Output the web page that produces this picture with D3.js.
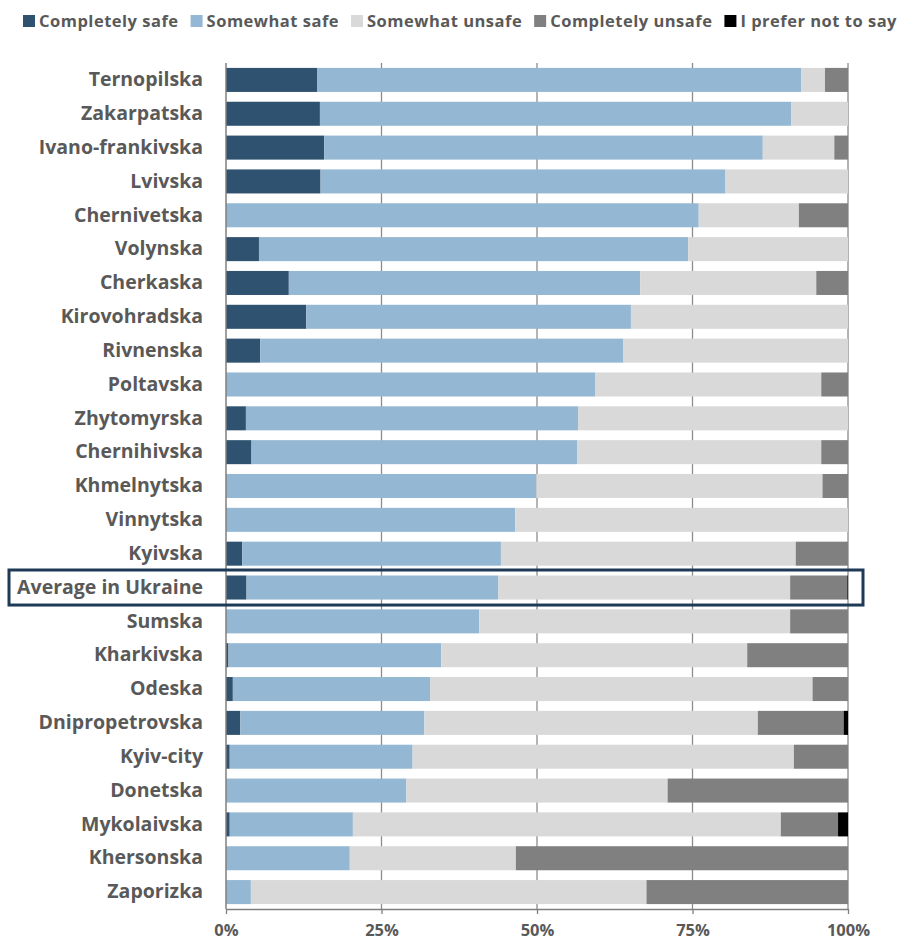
<!DOCTYPE html>
<html><head><meta charset="utf-8">
<script src="https://cdn.jsdelivr.net/npm/d3@7"></script>
<style>
html,body{margin:0;padding:0;background:#fff;}
svg text{font-family:"Open Sans",sans-serif;font-weight:700;fill:#595959;}
</style></head>
<body><svg id="chart" width="900" height="940"></svg>
<script>
const regions = ["Ternopilska","Zakarpatska","Ivano-frankivska","Lvivska","Chernivetska","Volynska","Cherkaska","Kirovohradska","Rivnenska","Poltavska","Zhytomyrska","Chernihivska","Khmelnytska","Vinnytska","Kyivska","Average in Ukraine","Sumska","Kharkivska","Odeska","Dnipropetrovska","Kyiv-city","Donetska","Mykolaivska","Khersonska","Zaporizka"];
const seriesNames = ["Completely safe","Somewhat safe","Somewhat unsafe","Completely unsafe","I prefer not to say"];
const completelySafe   = [14.7,15.1,15.8,15.2,0,5.3,10.1,12.9,5.5,0,3.2,4.1,0,0,2.6,3.3,0,0.4,1.1,2.3,0.6,0,0.6,0,0];
const somewhatSafe     = [77.8,75.8,70.5,65.1,76.0,69.0,56.5,52.2,58.4,59.4,53.4,52.4,49.9,46.5,41.6,40.5,40.7,34.2,31.7,29.6,29.4,29.0,19.8,19.9,4.0];
const somewhatUnsafe   = [3.8,9.1,11.5,19.7,16.1,25.7,28.3,34.9,36.1,36.3,43.4,39.2,46.0,53.5,47.4,46.9,50.0,49.2,61.5,53.6,61.3,42.0,68.8,26.7,63.6];
const completelyUnsafe = [3.7,0,2.2,0,7.9,0,5.1,0,0,4.3,0,4.3,4.1,0,8.4,9.2,9.3,16.2,5.7,13.8,8.7,29.0,9.2,53.4,32.4];
const preferNot        = [0,0,0,0,0,0,0,0,0,0,0,0,0,0,0,0.1,0,0,0,0.7,0,0,1.6,0,0];
const xTicks = [0,25,50,75,100];
const highlight = "Average in Ukraine";

const colors = ["#2e5270","#94b8d3","#d9d9d9","#808080","#000000"];
const seriesVals = [completelySafe,somewhatSafe,somewhatUnsafe,completelyUnsafe,preferNot];
const rows = regions.map((r,i)=>{const o={region:r}; seriesNames.forEach((s,k)=>o[s]=seriesVals[k][i]); return o;});

const svg = d3.select("#chart");
const x = d3.scaleLinear().domain([0,100]).range([226,848]);
const y = d3.scaleBand().domain(regions).range([63,909]).paddingInner(0.29).paddingOuter(0.145);
const yBottom = 909;

// gridlines
svg.append("g").selectAll("line").data(xTicks.slice(1)).join("line")
  .attr("x1",d=>x(d)).attr("x2",d=>x(d)).attr("y1",63).attr("y2",yBottom)
  .attr("stroke","#8c8c8c").attr("stroke-width",1.3);

const stack = d3.stack().keys(seriesNames)(rows);
svg.append("g").selectAll("g").data(stack).join("g")
  .attr("fill",(d,i)=>colors[i])
  .selectAll("rect").data(d=>d).join("rect")
  .attr("x",d=>x(d[0])).attr("width",d=>Math.max(0,x(d[1])-x(d[0])))
  .attr("y",d=>y(d.data.region)).attr("height",y.bandwidth());

// left axis line
svg.append("line").attr("x1",x(0)).attr("x2",x(0)).attr("y1",63).attr("y2",yBottom)
  .attr("stroke","#7f7f7f").attr("stroke-width",1.5);

// x axis
const xa = svg.append("g").attr("transform",`translate(0,${yBottom})`)
  .call(d3.axisBottom(x).tickValues(xTicks).tickFormat(d=>d+"%").tickSizeOuter(0).tickSizeInner(5).tickPadding(10));
xa.select(".domain").attr("stroke","#7f7f7f").attr("stroke-width",1.3);
xa.selectAll(".tick line").attr("stroke","#7f7f7f").attr("stroke-width",1.3);
xa.selectAll("text").attr("font-size",16.5).attr("font-family","Open Sans").attr("font-weight",700).attr("fill","#595959");

// y labels
const ya = svg.append("g").attr("transform","translate(203,0)")
  .call(d3.axisLeft(y).tickSize(0).tickPadding(0));
ya.select(".domain").remove();
ya.selectAll("text").attr("font-size",19.5).attr("font-family","Open Sans").attr("font-weight",700).attr("fill","#595959");

// highlight box
svg.append("rect").attr("x",9).attr("y",y(highlight)-5.5).attr("width",854).attr("height",y.bandwidth()+11)
  .attr("fill","none").attr("stroke","#1f3a57").attr("stroke-width",3);

// legend
const lg = svg.append("g");
const items = lg.selectAll("g").data(seriesNames).join("g");
items.append("rect").attr("width",12).attr("height",12).attr("y",1).attr("fill",(d,i)=>colors[i]);
items.append("text").text(d=>d).attr("x",16).attr("y",13).attr("font-size",16.5).attr("letter-spacing",0.5);
const widths = [];
items.each(function(){widths.push(16+d3.select(this).select("text").node().getComputedTextLength());});
const startX = 23, endX = 897;
const gap = (endX-startX-d3.sum(widths))/(seriesNames.length-1);
let cx = startX;
items.attr("transform",(d,i)=>{const t=`translate(${cx},14)`; cx+=widths[i]+gap; return t;});
</script></body></html>
